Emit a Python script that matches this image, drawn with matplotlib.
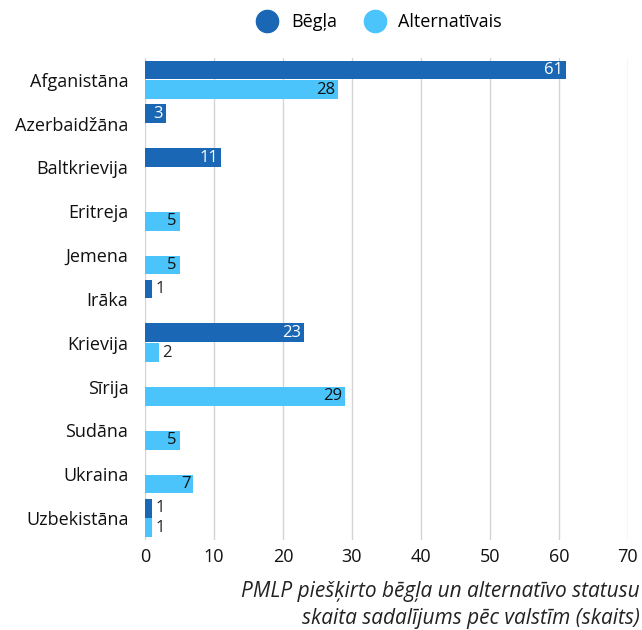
import numpy as np
import matplotlib as mpl
mpl.use("Agg")
import matplotlib.pyplot as plt
from matplotlib.lines import Line2D

plt.rcParams['font.family'] = ['Open Sans', 'DejaVu Sans']

countries = ['Afganistāna', 'Azerbaidžāna', 'Baltkrievija', 'Eritreja', 'Jemena', 'Irāka',
             'Krievija', 'Sīrija', 'Sudāna', 'Ukraina', 'Uzbekistāna']
begla = [61, 3, 11, 0, 0, 1, 23, 0, 0, 0, 1]
alternativais = [28, 0, 0, 5, 5, 0, 2, 29, 5, 7, 1]
series_names = ['Bēgļa', 'Alternatīvais']

dark = '#1a67b5'
light = '#4ac4fb'

fig = plt.figure(figsize=(6.42, 6.3), dpi=100)
ax = fig.add_axes([0.226, 0.143, 0.752, 0.765])

y = np.arange(len(countries))
h = 0.43
b1 = ax.barh(y - h / 2 - 0.01, begla, height=h, color=dark, zorder=3)
b2 = ax.barh(y + h / 2 + 0.01, alternativais, height=h, color=light, zorder=3)

def label(bars, vals, inside_min, inside_color):
    for bar, v in zip(bars, vals):
        if v == 0:
            continue
        yc = bar.get_y() + bar.get_height() / 2
        if v >= inside_min:
            ax.text(v - 0.4, yc, str(v), ha='right', va='center', color=inside_color, fontsize=12, zorder=4)
        else:
            ax.text(v + 0.5, yc, str(v), ha='left', va='center', color='#222222', fontsize=12, zorder=4)

label(b1, begla, 3, 'white')
label(b2, alternativais, 5, '#111111')

ax.set_xlim(0, 70)
ax.set_ylim(len(countries) - 0.5, -0.5)
ax.set_xticks(range(0, 71, 10))
ax.set_yticks(y)
ax.set_yticklabels(countries, fontsize=13, color='#111111')
ax.tick_params(axis='x', labelsize=13, length=0, pad=6, labelcolor='#111111')
ax.tick_params(axis='y', length=0, pad=12)
ax.grid(axis='x', color='#d4d4d4', linewidth=1, zorder=0)
for s in ax.spines.values():
    s.set_visible(False)

handles = [Line2D([], [], marker='o', linestyle='', markersize=16, color=dark),
           Line2D([], [], marker='o', linestyle='', markersize=16, color=light)]
fig.legend(handles, series_names, loc='center', bbox_to_anchor=(0.585, 0.965), ncol=2,
           frameon=False, fontsize=13, handletextpad=0.3, columnspacing=1.1)

fig.text(0.997, 0.04, 'PMLP piešķirto bēgļa un alternatīvo statusu\nskaita sadalījums pēc valstīm (skaits)',
         ha='right', va='center', fontsize=15, style='italic', linespacing=1.4, color='#222222')

fig.savefig('out.png', dpi=100)
